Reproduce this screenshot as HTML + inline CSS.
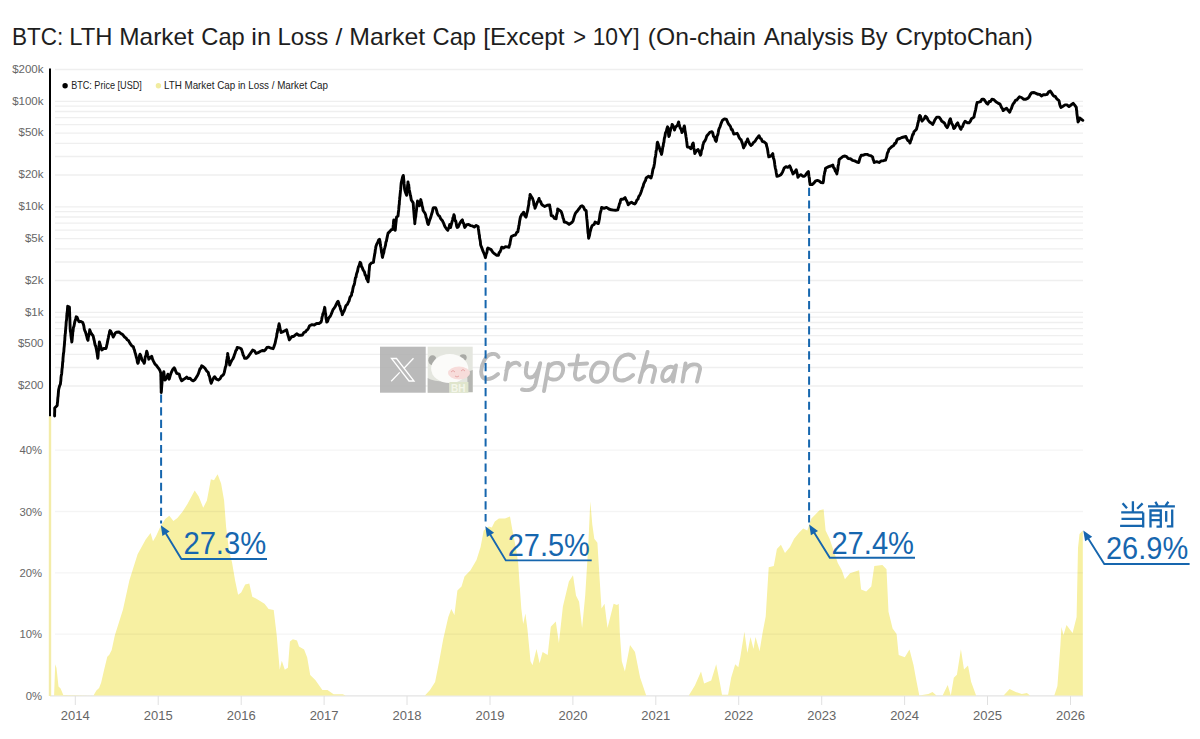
<!DOCTYPE html><html><head><meta charset="utf-8"><style>html,body{margin:0;padding:0;background:#fff;width:1200px;height:739px;overflow:hidden}svg{display:block}</style></head><body>
<svg width="1200" height="739" viewBox="0 0 1200 739" font-family="Liberation Sans, sans-serif">
<rect width="1200" height="739" fill="#fff"/>
<g font-size="23.6" fill="#1e1e1e"><text x="11.93" y="45" textLength="51.38" lengthAdjust="spacingAndGlyphs">BTC:</text><text x="69.33" y="45" textLength="43.22" lengthAdjust="spacingAndGlyphs">LTH</text><text x="119.28" y="45" textLength="74.59" lengthAdjust="spacingAndGlyphs">Market</text><text x="201.30" y="45" textLength="43.45" lengthAdjust="spacingAndGlyphs">Cap</text><text x="251.38" y="45" textLength="19.70" lengthAdjust="spacingAndGlyphs">in</text><text x="277.46" y="45" textLength="50.80" lengthAdjust="spacingAndGlyphs">Loss</text><text x="335.60" y="45" textLength="6.85" lengthAdjust="spacingAndGlyphs">/</text><text x="349.25" y="45" textLength="75.88" lengthAdjust="spacingAndGlyphs">Market</text><text x="432.55" y="45" textLength="43.45" lengthAdjust="spacingAndGlyphs">Cap</text><text x="483.24" y="45" textLength="81.37" lengthAdjust="spacingAndGlyphs">[Except</text><text x="573.28" y="45" textLength="12.82" lengthAdjust="spacingAndGlyphs">&gt;</text><text x="592.66" y="45" textLength="47.04" lengthAdjust="spacingAndGlyphs">10Y]</text><text x="647.83" y="45" textLength="108.15" lengthAdjust="spacingAndGlyphs">(On-chain</text><text x="763.65" y="45" textLength="90.25" lengthAdjust="spacingAndGlyphs">Analysis</text><text x="860.21" y="45" textLength="27.43" lengthAdjust="spacingAndGlyphs">By</text><text x="895.47" y="45" textLength="137.46" lengthAdjust="spacingAndGlyphs">CryptoChan)</text></g>
<path d="M55 69.5H1083M55 101.3H1083M55 106.1H1083M55 111.5H1083M55 117.6H1083M55 124.7H1083M55 133.1H1083M55 143.3H1083M55 156.5H1083M55 175H1083M55 206.8H1083M55 211.6H1083M55 217H1083M55 223.1H1083M55 230.2H1083M55 238.6H1083M55 248.8H1083M55 262H1083M55 280.5H1083M55 312.3H1083M55 317.1H1083M55 322.5H1083M55 328.6H1083M55 335.7H1083M55 344.1H1083M55 354.3H1083M55 367.5H1083M55 386H1083" stroke="#efefef" stroke-width="1.3" fill="none"/>
<path d="M50 695.8H1083" stroke="#e3e3e3" stroke-width="1.2"/>
<path d="M75.3 696V705M158.2 696V705M241.2 696V705M324.1 696V705M407 696V705M490 696V705M572.9 696V705M655.8 696V705M738.7 696V705M821.7 696V705M904.6 696V705M987.5 696V705M1070.5 696V705" stroke="#e0e0e0" stroke-width="1"/>
<path d="M54.1 695.5 L55.2 664.2 L56.5 668 L58.5 686.5 L60.6 688.6 L63.3 695 L93.5 695.5 L96.4 690.6 L99.1 687.9 L101.2 682.5 L104 670.3 L107.3 656.8 L109.3 654.7 L111.7 650 L114.8 635.4 L123 609.4 L129.4 580.2 L137.6 554.2 L145.7 539.6 L150.6 533.1 L153 541.2 L156.1 536.1 L160.2 527 L165.2 518.9 L169.3 515.8 L173.4 520.9 L177.4 517.9 L182.5 511.8 L187.6 503.7 L194.7 490.5 L198.7 496.5 L203.2 507.7 L206.9 500.6 L210.9 479.3 L214 480.3 L217.6 474.2 L221.1 483.4 L224.1 500.6 L226.1 527 L229.2 551.4 L232 562.2 L235.1 580.5 L238.1 594.7 L241.2 592.6 L245.2 584.5 L249.3 583.5 L252.3 596.7 L256.4 598.7 L264.5 603.8 L268.6 608.9 L273.7 609.9 L276.7 635.3 L279.7 669.8 L281.8 660.7 L284.8 669.8 L287.9 667.8 L289.9 641.4 L292.9 639.3 L297 640.4 L299 646.4 L304.1 649.5 L307.2 657.6 L310.2 674.9 L315.3 680 L322.4 690.1 L327.5 690.1 L333.6 694.2 L342.7 694.2 L345.7 695.5 L424.9 695.5 L430 690.1 L435.1 682 L439.1 661.7 L443.2 639.3 L448.3 617 L451.3 608.9 L454.4 615 L457.4 590.6 L461.5 586.5 L464.5 576.4 L470.5 570.2 L476.5 560 L480.6 546.9 L483.7 530.6 L488.7 526.5 L491.8 527.6 L494.8 521.5 L498.9 518.4 L505 518.4 L510 516.4 L512.1 528.6 L516.1 548.9 L518.2 563.1 L519.3 580 L521.3 608.4 L523.2 624 L525.4 613.5 L527.4 628.7 L530.5 661.2 L532.5 665.3 L536.5 649 L539.6 663.2 L542.6 652.1 L547.7 655.1 L550.8 626.7 L555.8 621.6 L558.9 642.9 L562.9 606.4 L568.9 581.4 L573 575.3 L576 595.6 L579.1 601.7 L582.1 628.1 L585.2 595.6 L588.2 546.9 L590.3 501.2 L592.3 524.5 L594.3 538.7 L597.4 542.8 L599.4 575.3 L601.5 608.4 L604.5 603.7 L607.5 628.1 L611.6 611.8 L613.6 603.7 L617 605 L618.7 603.7 L619.8 632.8 L621.8 661.2 L624.9 671.4 L630 645 L635 652.1 L640.1 677.5 L646.2 695.5 L688.8 695.5 L694.9 685.6 L701 671.4 L704.1 683.6 L711.2 680.5 L716.2 664.3 L720 683.6 L722 694.7 L728.1 694.7 L731.2 677.5 L735.2 664.3 L738.3 667.3 L740.3 657.2 L744.4 631.8 L747.4 653.1 L750.5 636.9 L753.5 649 L755.5 636.9 L759.6 651.1 L762.6 632.8 L765.7 616.5 L768.7 567.2 L773.8 566.1 L776.9 548.9 L780.9 544.8 L785 552.9 L790 546.9 L794.1 538.7 L799.2 532.6 L803.2 528.6 L807.3 530.6 L811.4 518.4 L815.4 514.4 L819.5 510.3 L823.6 509.3 L825.6 530.6 L829.6 538.7 L833.7 550.9 L837.8 563.1 L841.8 570.2 L844.9 579.3 L850 573.2 L856 571.2 L859.1 570.2 L861.1 589.5 L866.2 591.5 L871.3 586.4 L874.3 566.1 L882.4 565.1 L886.5 569.2 L888.5 611.8 L892.6 628.5 L896.6 634 L898.7 655.1 L904.8 657.2 L909.5 649.5 L913.5 665 L916.2 679.8 L919.3 695.5 L928.4 694 L932.5 692 L936.5 695.5 L942.6 695.5 L947.7 684.9 L950.8 695.5 L953.8 677.8 L956.9 674.7 L960.9 649.3 L964 669.6 L968 665.6 L971.1 681.8 L976.1 695.5 L1003.6 695.5 L1009.6 688.9 L1015.7 692 L1021.8 694 L1026.9 693 L1030 695.5 L1054.3 695.5 L1057.4 685.9 L1060.4 645.3 L1061.4 627 L1063.5 635.1 L1066.5 625 L1069.5 629 L1072.6 633.1 L1074.6 625 L1076.6 616.9 L1078 548 L1079.5 534 L1082.8 530.5 L1082.8 695.5Z" fill="#f7f0a2"/>
<path d="M55 450.2H1083M55 511.5H1083M55 572.8H1083M55 634.2H1083" stroke="#000" stroke-opacity="0.045" stroke-width="1.3" fill="none"/>
<path d="M50 68.5V416.5" stroke="#000" stroke-width="2"/>
<path d="M50 416.5V696" stroke="#f3eca8" stroke-width="2.4"/>
<g font-size="12" fill="#666"><text x="43.5" y="72.8" text-anchor="end" font-size="11.5">$200k</text><text x="43.5" y="104.6" text-anchor="end" font-size="11.5">$100k</text><text x="43.5" y="136.4" text-anchor="end" font-size="11.5">$50k</text><text x="43.5" y="178.3" text-anchor="end" font-size="11.5">$20k</text><text x="43.5" y="210.1" text-anchor="end" font-size="11.5">$10k</text><text x="43.5" y="241.9" text-anchor="end" font-size="11.5">$5k</text><text x="43.5" y="283.8" text-anchor="end" font-size="11.5">$2k</text><text x="43.5" y="315.6" text-anchor="end" font-size="11.5">$1k</text><text x="43.5" y="347.4" text-anchor="end" font-size="11.5">$500</text><text x="43.5" y="389.3" text-anchor="end" font-size="11.5">$200</text><text x="42" y="454.4" text-anchor="end" font-size="11.3">40%</text><text x="42" y="515.7" text-anchor="end" font-size="11.3">30%</text><text x="42" y="577" text-anchor="end" font-size="11.3">20%</text><text x="42" y="638.4" text-anchor="end" font-size="11.3">10%</text><text x="42" y="699.7" text-anchor="end" font-size="11.3">0%</text></g>
<g font-size="13" fill="#666"><text x="75.3" y="720.2" text-anchor="middle">2014</text><text x="158.2" y="720.2" text-anchor="middle">2015</text><text x="241.2" y="720.2" text-anchor="middle">2016</text><text x="324.1" y="720.2" text-anchor="middle">2017</text><text x="407" y="720.2" text-anchor="middle">2018</text><text x="490" y="720.2" text-anchor="middle">2019</text><text x="572.9" y="720.2" text-anchor="middle">2020</text><text x="655.8" y="720.2" text-anchor="middle">2021</text><text x="738.7" y="720.2" text-anchor="middle">2022</text><text x="821.7" y="720.2" text-anchor="middle">2023</text><text x="904.6" y="720.2" text-anchor="middle">2024</text><text x="987.5" y="720.2" text-anchor="middle">2025</text><text x="1070.5" y="720.2" text-anchor="middle">2026</text></g>
<circle cx="65.1" cy="85.8" r="2.7" fill="#000"/>
<text x="71.15" y="88.6" font-size="10.9" fill="#222" textLength="70.67" lengthAdjust="spacingAndGlyphs">BTC: Price [USD]</text>
<circle cx="158.4" cy="85.8" r="2.7" fill="#f1eca0"/>
<text x="163.94" y="88.6" font-size="10.9" fill="#222" textLength="163.95" lengthAdjust="spacingAndGlyphs">LTH Market Cap in Loss / Market Cap</text>
<rect x="380" y="346.7" width="45.7" height="46" fill="#b0b0b0" fill-opacity="0.88"/>
<path d="M391.5 358.5 L396.5 358.5 L414 381 L409 381 Z M413.5 358.2 L404.5 367.8 M399.7 372.4 L391.2 381.2" stroke="#fff" stroke-width="1.3" fill="none" stroke-linejoin="miter"/>
<rect x="427.7" y="346.7" width="45" height="46" fill="#e4e6df"/>
<ellipse cx="432.5" cy="360.3" rx="4.2" ry="5" fill="#a9aaa6"/>
<ellipse cx="463.1" cy="357.6" rx="3.6" ry="3.4" fill="#a9aaa6"/>
<path d="M427.7 378 Q432 381.5 449.4 382 L449.4 392.7 L427.7 392.7 Z" fill="#bdbdbb"/>
<path d="M467 372 L472.7 370 L472.7 392 L468 392 Z" fill="#b5b6b2"/>
<ellipse cx="449.7" cy="368.6" rx="18.6" ry="14.5" fill="#fbfbf9"/>
<ellipse cx="459" cy="373" rx="11" ry="6.5" fill="#f7dcda"/>
<path d="M451 372 q2 -3 4 0 M461 371 q2 -3 4 0 M455 376 q2 2 4 0" stroke="#e8a8a8" stroke-width="1" fill="none"/>
<rect x="449.4" y="382" width="19" height="10.7" fill="#dfe5cc"/>
<text x="451" y="391.5" font-size="10" font-weight="bold" fill="#f4f6ea">BH</text>
<path d="M498.5 357 C496 352 488 353 484.5 360 C480 368 480 377 485 378.8 C489 380 494 377.5 498 374 M508.1 362.7 L505.2 379.5 M506.4 370.5 C509 365 512 362.5 516.5 362.8 C518 363 519 364 519.5 365 M527.2 363 C525.5 370 524.5 377 529.5 377.5 C534 378 537.5 374 540.2 363.2 L535.5 384 C534 390 528 391 522 389.5 M548.8 364.2 L544 391 M548.5 367.5 C551 364 555 362.5 558.5 363 C563 363.8 564 368 562.5 373 C561 378 556.5 380 552.5 379.5 C550 379.2 548 378 547.5 377 M578 355.5 L575 373 C574.5 378 576.5 380 579 379.5 C581 379 583 378 584.2 376.6 M569.4 364.6 L587.1 363.5 M600.5 362.5 C594 362 590.5 370 591 376 C591.5 381 595 382.5 599 381.5 C604 380 608.5 373 607.5 367 C607 364 604 362.5 600.5 362.5 Z M634 358 C632 353.5 626 353.5 621 357 C616 361 614 370 615 376 C616 380.5 621 381 625 380 C628.5 379 631 377 633 375 M647.5 352 L639.5 382 M642.5 372 C644.5 368 647 366 650 366 C654 366 655.5 368 655 371 L652.3 382 M675 368.5 C673 366 668.5 366 665.5 369 C662 372.5 661.5 378 663 380 C665 382 669 380.5 671.5 377 C673.5 374 675 370 676 365.5 L673 381.5 M685.5 363.5 L682.5 381.5 M684 372 C686 368 689 365 693 364.5 C697.5 364 700.5 365.5 700 369.5 L697 381.5" stroke="#bcbcbc" stroke-width="3.9" fill="none" stroke-linecap="round" stroke-linejoin="round"/>
<path d="M54.6 416 L54.6 413.6 L54.7 411.3 L54.7 410.3 L54.7 408 L57.2 405.5 L57.4 402.8 L57.6 401.9 L57.7 399.7 L57.9 397.3 L58.1 396.3 L58.3 393.6 L58.4 392.5 L58.6 390 L58.8 389 L59.6 385.8 L60.4 384.2 L60.6 382.1 L60.8 381 L61 377.6 L61.2 375.8 L61.5 374.7 L61.7 373.4 L61.9 370.7 L62.1 368.4 L62.3 367.6 L62.5 364.7 L62.7 361.9 L62.9 361.6 L63 358.5 L63.2 356.3 L63.4 354.3 L63.6 352.8 L63.8 351.9 L64 348.7 L64.1 347.6 L64.3 345.8 L64.5 343.6 L64.6 341.5 L64.8 340.1 L64.9 337.3 L65.1 335.5 L65.2 334 L65.4 333.2 L65.5 330.9 L65.7 328.8 L65.8 327.4 L66 325.6 L66.1 323.5 L66.3 321.2 L66.5 320.3 L66.7 318.2 L66.8 315.3 L67 314.1 L67.2 312 L67.4 310.8 L67.5 308.6 L67.7 306.2 L69.4 307 L69.5 308.4 L69.5 311.6 L69.6 311.7 L69.7 314.2 L69.7 316.7 L69.8 317.3 L69.9 319.8 L69.9 320.7 L70 323.8 L70.1 325.9 L70.1 327.3 L70.2 329 L70.4 331.6 L70.7 332.3 L70.9 335 L71.1 336.6 L71.3 338.4 L71.6 340.1 L71.8 342 L72 340.9 L72.2 339.2 L72.4 336.5 L72.6 335 L72.8 332 L73 331.5 L73.2 329.5 L73.4 327.4 L73.9 326.6 L74.3 324.5 L74.8 321.7 L75.3 320.1 L75.7 318.9 L76.2 316.8 L77.2 317.5 L78.1 320 L79.1 321.7 L80.9 321.4 L82.7 322.5 L83.2 323.8 L83.8 325.7 L84.3 329.1 L84.8 330.6 L85.4 331.8 L86.1 334 L86.7 336.2 L87.4 339.1 L88 340.3 L88.3 337.4 L88.7 336 L89 334.1 L89.4 332.7 L89.7 329.8 L90.8 332.3 L91.8 334.3 L92.9 335.5 L93.4 336.9 L93.8 339 L94.3 340.8 L94.8 343.7 L95.3 345.7 L95.7 345.9 L96.2 348.5 L96.5 349.8 L96.8 351.8 L97.2 353.8 L97.5 356.2 L97.8 358.2 L98 356.6 L98.2 354.1 L98.3 351.8 L98.5 350.8 L98.7 348.9 L98.9 347.5 L99 346.5 L99.2 344.2 L99.4 342 L100 344 L100.6 346.2 L101.2 348.4 L101.8 350 L103.8 348.4 L105.9 348.5 L106.3 347.5 L106.7 345.5 L107.1 343.9 L107.5 341.9 L108 339.3 L108.4 337.6 L108.8 335.2 L109.2 334.4 L109.6 331.5 L110 330.6 L110.8 331.4 L111.6 333.3 L112.4 334.8 L113.2 337.1 L114.3 335.1 L115.4 332.9 L116.5 332.2 L118.9 332 L121.3 333.8 L122.9 334.8 L124.6 337.1 L125.9 337.9 L127.3 339.9 L128.7 340.8 L130 343.3 L131.7 345.7 L133.3 346.7 L133.9 348.9 L134.4 349.9 L135 352.5 L135.5 353.8 L136 355.8 L136.4 357.6 L136.9 358.9 L137.4 362.2 L137.9 363.3 L138.3 362.5 L138.7 359.6 L139.2 357.8 L139.6 355.2 L140 354.2 L140.7 355.3 L141.3 357.8 L142 360 L143.1 361.2 L144.2 363.3 L144.6 361.9 L145 358.6 L145.4 356.3 L145.9 356.1 L146.3 353.3 L146.7 351.2 L147.2 352.5 L147.7 355.3 L148.2 356.3 L148.8 359.2 L150.2 357.8 L151.7 356.2 L152.5 359.2 L153.3 360.9 L154.2 362.6 L155 364.2 L156.4 365.4 L157.8 367.3 L159.2 369.2 L160 370.6 L160.8 373.3 L160.8 375.8 L160.9 377.2 L160.9 379.6 L161 380.6 L161 382.3 L161.1 385.4 L161.1 387.7 L161.2 389.4 L161.2 391.2 L161.2 392.5 L161.4 391.3 L161.5 389.4 L161.7 386.6 L161.8 385.3 L162 383.2 L162.1 381.7 L162.4 378.8 L162.8 376.8 L163.1 375.3 L163.4 373.2 L163.8 371.7 L164.1 374.2 L164.4 376.8 L164.7 377.8 L165 380 L166 378.9 L166.9 377.1 L167.9 374.2 L168.6 377.6 L169.2 379.2 L169.8 377.1 L170.4 374.9 L171.1 373 L171.7 371.7 L172.9 369.2 L174.2 367.9 L175 369.1 L175.9 371.7 L176.7 373.3 L179.2 374.2 L180 377.2 L180.9 379.3 L181.7 380.8 L183.4 379.5 L185 378.6 L186.7 377.1 L188.3 378.6 L190 378.1 L191.7 380.2 L193.3 380.8 L195 379.6 L196.7 376.7 L197.5 375.4 L198.4 373.6 L199.2 371.2 L200 368.8 L200.9 368.2 L201.7 365.8 L203.3 366.7 L205 368.3 L206.7 371 L208.3 372.5 L208.8 375.2 L209.3 375.9 L209.8 377.7 L210.3 380.6 L210.8 381.9 L211.2 383.3 L212.1 381 L212.9 379.3 L213.8 377.7 L214.6 376.7 L216.4 379.2 L218.3 380 L220 378.9 L221.6 376 L223.3 375 L223.8 373.9 L224.3 372.4 L224.8 370 L225.3 367.6 L225.8 366.2 L226.3 364.3 L226.5 361.8 L226.8 359.7 L227 359.8 L227.2 357.4 L227.5 355.4 L227.7 353.5 L228 356.3 L228.4 357.2 L228.7 360 L229 361.8 L229.4 362.5 L229.7 365 L230.5 362.9 L231.3 361.3 L232.2 359.6 L233 358.7 L233.8 356.9 L234.5 354.5 L235.2 352.9 L235.8 350.5 L236.5 350.1 L237.2 347.4 L239.2 347.8 L241.2 348.7 L241.9 350.5 L242.6 352.7 L243.2 355.2 L243.9 356.1 L244.6 358.2 L246.3 358.4 L248 356.9 L249.2 355.2 L250.3 353.6 L251.5 351.8 L252.7 350.1 L254.4 350.8 L256.1 353.5 L258.1 352.7 L260.1 351.5 L262.2 350.5 L264.2 350.8 L265.5 349.7 L266.9 347.4 L268.9 347.2 L271 348.2 L273 348.7 L273.7 347.4 L274.4 345.2 L275.1 343.3 L275.5 341.2 L275.8 339.8 L276.2 338.1 L276.6 336.7 L276.9 333.6 L277.3 332.7 L277.6 330.3 L278 328.6 L278.4 327.8 L278.7 325.5 L279.1 323.7 L279.5 325.6 L279.9 327.7 L280.3 329.8 L280.7 330.6 L281.1 332.5 L282.9 331.8 L284.8 330.7 L286.6 329.8 L287.1 331.8 L287.7 334.2 L288.2 335.8 L288.8 337.9 L289.3 339.9 L290.6 338.2 L292 336.5 L293.6 336.5 L295.1 335.1 L296.7 333.8 L298.8 335.3 L300.8 335.2 L302.4 335 L303.9 332.5 L305.5 331.8 L306.5 330.4 L307.6 329.6 L308.6 327.9 L309.6 325.7 L312 324.6 L314.3 325 L316.6 323.5 L319 323.5 L321.1 322 L321.6 320 L322 317.5 L322.4 316 L322.9 313.8 L323.4 313.2 L323.8 311.5 L324.2 309.9 L324.7 307.3 L324.9 308.4 L325.2 311.4 L325.4 313.1 L325.7 313.9 L325.9 317.3 L326.2 319.3 L326.4 319.6 L326.7 322 L327.6 321.3 L328.5 318.5 L329.4 317.1 L330.2 316.4 L331.1 314.5 L332 312.2 L333 309.7 L334 308.4 L335.1 306.8 L336.1 304.6 L337.1 302.5 L338.1 301.3 L338.7 302.9 L339.3 305.6 L339.9 306.1 L340.5 309.1 L341.1 310.8 L341.7 311.8 L342.3 314.7 L343.2 312.4 L344.1 311 L344.9 308.8 L345.8 306 L346.7 304.9 L347.5 304.3 L348.3 302.2 L349.1 301 L349.9 297.6 L350.7 296.3 L351.5 295.2 L351.9 292.4 L352.4 292 L352.8 289.1 L353.3 286.9 L353.7 285.6 L354.2 284.7 L354.6 282.7 L355.1 279.7 L355.5 277.6 L356 277.2 L356.4 274.5 L356.9 272.9 L357.5 271.4 L358 268.5 L358.5 266.6 L359 266.2 L359.6 263.9 L360.1 262.3 L360.8 263.1 L361.5 266.6 L362.3 267.7 L363 269.7 L363.7 270.8 L364.4 271.8 L365.2 275.2 L365.9 275.4 L366.6 278.9 L367.4 279.9 L368.1 281.8 L368.3 279.6 L368.5 278.1 L368.7 277 L368.9 273.7 L369 271.6 L369.2 270.5 L369.4 268 L369.6 265.8 L369.8 264.7 L371.6 262.8 L373.5 262.3 L373.8 259.4 L374.1 257.8 L374.4 256 L374.7 254 L375 252.9 L375.3 250 L375.6 248.5 L375.9 246.5 L376.8 244 L377.7 242.5 L378.6 240.1 L379.5 239.2 L379.8 240.5 L380.1 241.9 L380.4 245.1 L380.7 246.6 L381 247.7 L381.3 250.1 L381.6 252.8 L381.9 253 L382.2 256.2 L382.5 257.4 L382.9 255.4 L383.4 253.7 L383.8 252.5 L384.2 249.7 L384.7 248.1 L385.1 246.6 L385.5 245.3 L385.9 242.1 L386.4 241.2 L386.8 239.1 L387.2 237.1 L387.7 234.8 L388.1 233.1 L389.7 231.6 L391.3 229.7 L392.9 229.4 L393.1 226.8 L393.3 224.7 L393.4 224.2 L393.6 221.3 L393.8 219.9 L394.1 221.3 L394.4 223.2 L394.6 226.8 L394.9 229 L395.2 230.3 L395.4 228.7 L395.6 226.1 L395.8 224.1 L396 222.3 L396.2 220.7 L396.4 218.2 L396.6 217 L398 216.1 L398.2 214.2 L398.4 212 L398.5 211.6 L398.7 209.9 L398.9 207.2 L399.1 204.8 L399.3 204.5 L399.4 201.4 L399.6 199.7 L399.8 197.2 L400 196.1 L400.1 194.5 L400.3 192.8 L400.5 190.4 L400.7 189.2 L400.9 186.4 L401 185.1 L401.2 183 L401.4 182 L402 179.6 L402.7 176.7 L403.3 175.4 L403.5 176.5 L403.7 179.1 L403.9 181 L404.1 183.7 L404.3 185.6 L404.5 188.1 L404.7 189.6 L405.3 191.8 L406 193.8 L406.6 195.3 L406.8 194.2 L407 191.3 L407.2 189.3 L407.4 188.7 L407.6 185.1 L407.8 184.3 L408 182 L408.3 184.1 L408.7 184.7 L409 188.1 L409.3 190 L409.6 191.3 L410 193.3 L410.3 195.2 L410.6 195.7 L411 198.2 L411.3 200 L413.2 202.9 L413.3 204.8 L413.5 207.4 L413.6 209.2 L413.8 211.1 L413.9 212.5 L414.1 215 L414.2 216.5 L414.4 218.4 L414.5 219.4 L414.7 220.9 L414.8 223.7 L415 221.1 L415.2 219.6 L415.5 217.2 L415.7 216.8 L415.9 214.4 L416.1 212.6 L416.4 210.7 L416.6 208.9 L416.8 206.7 L417.1 203.8 L417.3 203.5 L417.5 201 L418.4 203.8 L419.4 205.7 L419.9 203.7 L420.3 201.7 L420.8 199.6 L421.2 201.7 L421.6 202.4 L422 205.5 L422.3 206.4 L422.7 207.8 L423.1 210.5 L425 213.3 L425.6 214.7 L426.1 217.5 L426.6 218.4 L427.2 221.3 L427.8 223.7 L428.3 224.6 L428.9 222.7 L429.5 220.6 L430.1 218.9 L430.7 217.4 L431.2 215.7 L431.8 213.5 L432.4 211.7 L433 208.6 L433.6 207.6 L435.5 207.6 L436.1 208.8 L436.7 210.9 L437.3 213.3 L438.4 215.4 L439.5 216.2 L440.5 218.4 L441.6 219.9 L442.4 220.6 L443.2 222.3 L444.1 224.4 L444.9 226.5 L446.4 228.7 L447.8 230.3 L448.4 228.8 L449.1 226.9 L449.7 224.6 L450.6 227.5 L451.1 225.3 L451.5 223.9 L452 221.9 L452.5 220.1 L453 217.6 L453.4 217.3 L453.9 214.7 L454.4 215.9 L454.8 219.3 L455.3 221.1 L455.8 221 L456.3 223.8 L456.7 226.3 L457.2 227.5 L458.2 226.9 L459.3 224.4 L460.3 222.5 L461.4 220.8 L462.4 219.9 L463 222.7 L463.6 223.1 L464.2 225.8 L464.8 227.5 L466.7 224.6 L468.6 224.4 L470.5 225.6 L472.4 225.9 L474.3 227 L476.2 225.5 L478.1 226.5 L478.4 229 L478.6 230.2 L478.9 232.7 L479.1 234.2 L479.4 235.1 L479.6 238.2 L479.9 239.2 L480.1 240.1 L480.4 241.9 L480.6 244.7 L481.4 246.9 L482.2 248.9 L483 251.2 L483.8 253 L484.6 254.8 L485.4 257.7 L485.9 255.4 L486.4 253.5 L486.9 252.6 L487.4 248.9 L487.9 248 L491.1 249.6 L492.8 252.2 L494.4 253.7 L496.4 255.2 L498.4 255.3 L499.2 252.5 L500 252.1 L500.9 249.7 L501.7 247.2 L503.5 248 L505.4 246.8 L507.2 246.9 L509 247.2 L509.4 245.2 L509.8 244.7 L510.2 242.1 L510.6 239.9 L511 238.2 L511.4 236.6 L513.5 235.4 L515.5 235 L516.7 232.4 L517.9 231.7 L518.2 229.1 L518.5 228.7 L518.8 225.8 L519.1 225.3 L519.5 222.1 L519.8 220.3 L520.1 218.9 L520.4 217.1 L521.5 214.8 L522.5 213.6 L523.6 212.2 L524.4 214.7 L525.2 216.2 L526 217.1 L526.4 215.8 L526.8 213.6 L527.2 212.2 L527.7 210.4 L528.1 207.7 L528.5 205.7 L528.8 204.3 L529 201 L529.3 200.5 L529.6 198.1 L529.8 196.8 L530.1 194.4 L531.3 196.7 L532.5 198.4 L533 199.9 L533.5 201.4 L534 205.1 L534.5 205.5 L535 208.2 L535.8 206.2 L536.6 204 L537.4 201.9 L538.2 200.8 L539 198.4 L539.8 201.3 L540.7 201.7 L541.5 204.1 L543.1 205.6 L544.7 206.5 L547.2 205.3 L549.6 204.9 L549.9 207.1 L550.2 208.9 L550.6 210.6 L550.9 212.7 L551.2 215.5 L552.8 216 L554.5 218.4 L556.1 218.7 L556.4 216.8 L556.7 214.3 L557.1 213.7 L557.4 211.9 L557.7 209 L559.4 210.1 L561 211.4 L561.5 212.4 L562.1 214.3 L562.6 215.9 L563.1 218.2 L563.7 219.4 L564.2 222 L565.8 222.3 L567.5 223.1 L569.1 224.4 L570.7 223.3 L572.3 222 L573 221 L573.6 218.9 L574.3 216.4 L574.9 214.6 L575.6 213 L576.9 211.6 L578.2 209.8 L579.5 208.3 L580.8 206.3 L582.1 205.7 L583.4 206.9 L584.8 209.9 L586.1 210.6 L586.3 211.7 L586.4 214.3 L586.6 216.4 L586.8 218.7 L586.9 219.2 L587.1 221.2 L587.3 223 L587.4 225.1 L587.6 227.1 L587.8 229.9 L587.9 231.5 L588.1 233.4 L588.3 233.6 L588.4 235.4 L588.6 238.2 L589.1 236.7 L589.6 235.1 L590 232.3 L590.5 230.6 L591 228.5 L592 225.9 L593 225 L594.1 224.5 L595.1 222 L598.3 223.6 L598.7 222.5 L599 220.7 L599.4 219.1 L599.8 215.9 L600.1 213.8 L600.5 212.1 L600.9 211 L601.2 209.6 L601.6 207.4 L604 208.3 L606.5 207.4 L608.9 209 L611.3 209.8 L613.5 210.1 L615.6 210.3 L617.8 209.8 L618.3 207.9 L618.9 206.4 L619.5 203.6 L620 203.3 L620.5 200.4 L621.1 199.2 L623.1 199.2 L625.1 197.6 L625.9 199.7 L626.7 200.8 L627.4 202.3 L628.2 204.8 L629.9 203.1 L631.5 202.3 L633.1 203.4 L634.7 204 L635.8 202.8 L636.9 200 L638 199.1 L638.8 196.4 L639.6 195.5 L640.4 193.8 L641.2 191.8 L641.8 189.9 L642.4 187.8 L643 186.8 L643.7 183.9 L644.3 182.8 L644.9 181.4 L645.5 180.6 L646.1 178 L648.6 176.3 L651 178 L651.5 176.4 L651.9 175.1 L652.4 172.4 L652.8 170 L653.3 168.2 L653.7 167.8 L654.2 165 L654.5 163.5 L654.8 160.8 L655 158.3 L655.3 157.4 L655.6 155.8 L655.9 153.4 L656.1 151.2 L656.4 150.1 L656.7 148.8 L657 145.5 L657.2 143.2 L657.5 142.2 L658.3 144.3 L659.1 147.1 L659.7 148.8 L660.3 151.1 L660.9 152 L661.5 154.4 L661.8 153.2 L662.2 151.2 L662.5 148.9 L662.9 146.5 L663.2 146.2 L663.5 143.1 L663.9 142.3 L664.2 139.3 L664.6 137.4 L664.9 136.7 L665.3 133.9 L665.6 132.5 L666.3 131.5 L666.9 128.7 L667.6 126.8 L667.9 128.1 L668.1 130.1 L668.4 132.5 L668.6 134.9 L668.9 136.5 L669.4 135.4 L670 131.8 L670.5 130.2 L671 127.9 L671.6 127.4 L672.1 124.4 L672.9 125.6 L673.7 127.2 L674.5 130 L675.3 127.5 L676.1 126.5 L677 125.9 L677.8 124.3 L678.6 121.9 L679.1 124.1 L679.7 126.4 L680.2 128.1 L680.8 128.6 L681.4 130.1 L681.9 132.5 L682.7 131.2 L683.5 128.7 L684.3 126 L684.6 127 L684.9 130.2 L685.2 131.5 L685.5 133.4 L685.8 135.3 L686 136.8 L686.3 138.4 L686.6 140.9 L686.9 143 L687.2 146.1 L687.5 147.1 L689.1 147.1 L690.8 148.7 L691.6 147.7 L692.4 144.3 L693.2 143 L693.5 144.8 L693.8 147.9 L694.2 150 L694.5 151.3 L694.8 153.6 L696.5 150.6 L698.1 149.5 L698.9 151.3 L699.7 153 L700.5 155.2 L701 154.2 L701.4 150.9 L701.9 149.4 L702.4 148.6 L702.9 145 L703.3 143.9 L703.8 142.2 L704.8 141 L705.8 139.1 L706.8 135.8 L707.8 134.9 L709.8 132.4 L711.9 131.7 L712.7 132.8 L713.5 136.4 L714.4 137 L715.2 140 L716 141.4 L716.5 140.3 L716.9 137.4 L717.4 135.4 L717.8 134.9 L718.3 132.3 L718.7 129.8 L719.2 128.4 L720 126.8 L720.9 124 L721.7 121.9 L722.5 120.3 L724.5 118.9 L726.5 119.5 L727.5 121.8 L728.5 124 L729.6 125.2 L730.6 126.8 L731.4 129.5 L732.2 129.5 L733 131.7 L733.8 134.1 L737.1 133.3 L738.1 134.9 L739.1 137.5 L740.1 139.1 L741.1 139.8 L741.7 141.6 L742.4 143.4 L743 145.7 L743.6 147.9 L744.4 146.1 L745.2 145.2 L746 141.9 L746.8 141.4 L747.6 139 L748.4 141.1 L749.2 142.9 L750.1 144.4 L750.9 145.5 L752.3 144.3 L753.6 142.4 L755 141.4 L756.3 139.1 L757.7 137.3 L759 135.7 L760.1 138.2 L761.2 138.7 L762.3 141.4 L764.3 142 L766.3 143.9 L766.7 146.3 L767 147.1 L767.4 148.6 L767.7 150.4 L768.1 153.3 L768.4 154.7 L768.8 156.9 L770.8 156.2 L772.8 153.6 L773.1 156.3 L773.5 158.4 L773.8 158.8 L774.2 160.3 L774.5 162.3 L774.8 164.9 L775.2 167.3 L775.5 168.6 L775.9 170.1 L776.2 172.4 L776.6 174.6 L776.9 176.3 L778.9 175.8 L780.9 174.7 L781.7 173.6 L782.5 172.1 L783.3 170.2 L784.1 168.2 L786 166.6 L787.8 167.3 L789.7 165.8 L790.5 167.4 L791.4 170 L792.2 171.6 L793 173.9 L794.6 172.3 L796.2 169.8 L796.6 171 L797 173 L797.5 174.8 L797.9 177.2 L799.5 175.3 L801.1 174.7 L802.8 176.3 L804.4 176.3 L805.7 174.9 L807.1 172.8 L808.4 171.5 L808.6 173.1 L808.9 176.2 L809.1 177.1 L809.4 178.4 L809.6 181.4 L809.9 182.9 L810.1 184.5 L812.1 184.6 L814.1 182.8 L815.8 180.8 L817.4 180.4 L819.3 181.1 L821.1 182.6 L823 182.8 L823.3 181.7 L823.6 180 L823.9 176.4 L824.2 175.1 L824.6 172.9 L824.9 171.2 L825.2 171 L825.5 168.2 L828.7 166.6 L830.8 166 L832.8 165 L833.6 167.6 L834.4 168.3 L835.3 171.1 L836.1 172 L836.9 173.9 L837.2 171.6 L837.5 170.8 L837.8 169.3 L838.1 165.8 L838.4 165 L838.7 163.2 L839 160.6 L839.3 159.3 L841.2 157.9 L843.1 156.4 L845 156 L846.6 156.7 L848.2 158.5 L850.4 158.8 L852.5 160.3 L854.7 160.9 L856.8 162 L858.8 162.5 L859.4 160.1 L860 157.9 L860.6 156.7 L861.2 155.2 L863.2 155.2 L865.3 154.4 L867.1 154.4 L869 155.3 L870.8 155.7 L872.6 156.9 L873.1 159.4 L873.7 160.7 L874.2 162.5 L876.7 161.6 L879.1 162.5 L881.3 160.9 L883.4 160.7 L885.6 160.1 L886.1 158.4 L886.7 156.8 L887.2 154 L887.7 152.4 L888.3 151.7 L888.8 149.5 L890.4 148 L892.1 146.4 L893.7 145.5 L894.7 143.5 L895.8 143.2 L896.8 140.2 L897.8 139 L899.8 138.5 L901.8 137.5 L903.9 137 L905.9 136.5 L906.9 138.9 L908 140.7 L909 141.1 L910 143 L910.7 140.5 L911.3 139.7 L912 136.8 L912.7 134.5 L913.3 134.4 L914 131.7 L916.5 129.2 L917 127.1 L917.4 125.9 L917.9 123.1 L918.3 122.1 L918.8 119.3 L919.2 116.7 L919.7 115.4 L920.5 116.3 L921.3 119.3 L922.1 121.1 L923.2 119.7 L924.3 118.7 L925.4 116.2 L926.8 117.3 L928.1 120.2 L929.5 121.9 L931.1 122.9 L932.7 124.4 L933.7 122.6 L934.8 120 L935.8 118.5 L936.8 117.1 L939.1 117.1 L940.4 118.8 L941.8 121.2 L943.1 122 L944.5 123.1 L945.8 125.8 L947.2 127.7 L947.8 126.5 L948.5 125 L949.1 121.7 L949.8 119.8 L950.4 118.7 L951.1 121.5 L951.7 123.6 L952.4 124.5 L953 125.6 L953.7 128.5 L955 127.5 L956.4 124.5 L957.7 122.8 L958.5 125.2 L959.4 126.3 L960.2 128.3 L961 129.3 L961.8 127 L962.6 126.6 L963.5 123.9 L964.3 122.6 L965.1 121.2 L967.1 122.7 L969.1 122.8 L970.3 121.4 L971.5 118.7 L974 117.1 L974.4 114.6 L974.8 112.9 L975.2 111.4 L975.6 109.8 L976 107.7 L976.4 105.4 L976.8 103.8 L977.2 102.5 L978.8 102.1 L980.5 101.6 L982.1 99.1 L983.7 99.2 L985.1 101 L986.4 103 L987.8 104.1 L989.2 101.5 L990.5 101.5 L991.9 99.2 L993.9 99.7 L995.9 101.7 L998 103.1 L1000 104.1 L1000.8 105.8 L1001.6 107.6 L1002.4 108.6 L1003.2 110.6 L1004.9 109.2 L1006.5 108.2 L1008.1 110.4 L1009.7 112.2 L1010.5 110 L1011.4 108.5 L1012.2 106 L1013 104.1 L1014.3 102.5 L1015.6 100.2 L1016.9 100 L1018.2 98.2 L1019.5 96.8 L1021.5 97.5 L1023.5 99.2 L1025.5 99.3 L1027.6 98.4 L1029 97.1 L1030.3 94.5 L1031.7 92.7 L1034.1 92.5 L1036.5 93.6 L1038.1 94.3 L1039.8 94.4 L1041.4 96 L1043.3 94.7 L1045.2 94.8 L1047.1 94.4 L1048.7 91.9 L1050.3 91.1 L1051.4 92.6 L1052.5 94.4 L1053.6 96 L1055.2 96.4 L1056.9 99 L1058.5 100.1 L1059.1 101.1 L1059.7 104.2 L1060.3 106.1 L1060.9 107.4 L1063 106.2 L1065 104.9 L1067 104.9 L1069 106.6 L1071 105 L1073.1 103.3 L1074.7 105.1 L1076.3 107.4 L1076.5 110.1 L1076.7 110.3 L1076.9 113.6 L1077.2 115.7 L1077.4 117 L1077.6 119 L1077.8 119.6 L1078 122 L1078.8 120.9 L1079.6 117.9 L1081.2 119.1 L1082.8 120.3" stroke="#000" stroke-width="2.9" fill="none" stroke-linejoin="round" stroke-linecap="round"/>
<path d="M161.1 394.6V523.5" stroke="#1666ae" stroke-width="2" stroke-dasharray="8.2 4.38"/>
<path d="M485.6 262.3V521.5" stroke="#1666ae" stroke-width="2" stroke-dasharray="8.2 4.38"/>
<path d="M809.1 187.8V522.5" stroke="#1666ae" stroke-width="2" stroke-dasharray="8.2 4.38"/>
<path d="M160.8 525.2 L162.4 535.9 L169.6 531.6 Z" fill="#1666ae"/>
<path d="M163.9 530.3 L181.4 559 H267" stroke="#1666ae" stroke-width="1.9" fill="none"/>
<text x="183.40" y="554.3" font-size="31.2" fill="#1666ae" textLength="82.79" lengthAdjust="spacingAndGlyphs">27.3%</text>
<path d="M485.3 526.3 L486.9 537 L494.1 532.7 Z" fill="#1666ae"/>
<path d="M488.4 531.4 L505.8 560.4 H591.7" stroke="#1666ae" stroke-width="1.9" fill="none"/>
<text x="507.71" y="556" font-size="31.2" fill="#1666ae" textLength="82.12" lengthAdjust="spacingAndGlyphs">27.5%</text>
<path d="M809.2 524.6 L810.9 535.3 L818 530.9 Z" fill="#1666ae"/>
<path d="M812.4 529.7 L829.8 557.7 H915" stroke="#1666ae" stroke-width="1.9" fill="none"/>
<text x="831.41" y="553.5" font-size="31.2" fill="#1666ae" textLength="82.58" lengthAdjust="spacingAndGlyphs">27.4%</text>
<path d="M1083.3 530.6 L1085.1 541.3 L1092.2 536.8 Z" fill="#1666ae"/>
<path d="M1086.5 535.7 L1104.3 564 H1189.6" stroke="#1666ae" stroke-width="1.9" fill="none"/>
<text x="1106.01" y="558.9" font-size="31.2" fill="#1666ae" textLength="82.17" lengthAdjust="spacingAndGlyphs">26.9%</text>
<path d="M1122.6 503.2L1127 508.3 M1132.9 501.2V512.4 M1142.6 503.4L1137.2 508.8 M1121.2 512.4H1143.2 M1121.5 518.9H1143.2 M1120.1 525.9H1143.2 M1143.2 512.4V527.6 M1155.4 501.8L1157.5 505.6 M1168.4 501.8L1165.6 505.6 M1148 506.4H1174.9 M1150.5 527.6V510.5H1160.8V526.7H1156.5 M1150.5 515.3H1160.8 M1150.5 520.2H1160.8 M1166.2 511V521.8 M1172.2 509.4V526.4H1166.8" stroke="#1666ae" stroke-width="2.3" fill="none"/>
</svg></body></html>
